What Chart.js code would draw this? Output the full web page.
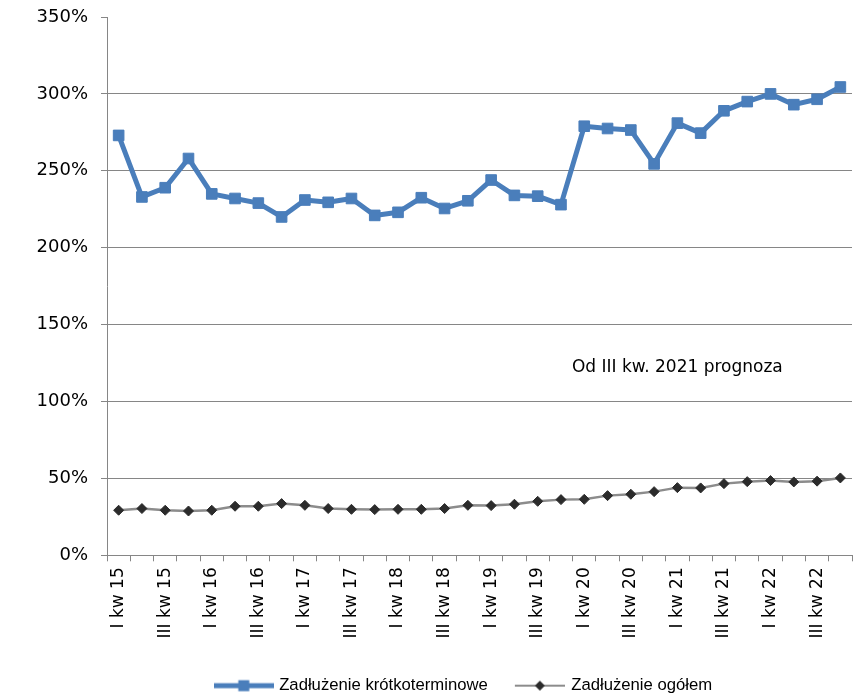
<!DOCTYPE html>
<html lang="pl">
<head>
<meta charset="UTF-8">
<title>Zadłużenie krótkoterminowe i ogółem</title>
<script src="https://cdn.jsdelivr.net/npm/chart.js@4.4.1/dist/chart.umd.min.js"></script>
<style>
    html, body { margin: 0; padding: 0; background: #fff; }
</style>
</head>
<body>
<canvas id="debtChart" width="855" height="696"></canvas>
<script>
// --- Data ---
const quarters = [
    'I kw 15', 'II kw 15', 'III kw 15', 'IV kw 15',
    'I kw 16', 'II kw 16', 'III kw 16', 'IV kw 16',
    'I kw 17', 'II kw 17', 'III kw 17', 'IV kw 17',
    'I kw 18', 'II kw 18', 'III kw 18', 'IV kw 18',
    'I kw 19', 'II kw 19', 'III kw 19', 'IV kw 19',
    'I kw 20', 'II kw 20', 'III kw 20', 'IV kw 20',
    'I kw 21', 'II kw 21', 'III kw 21', 'IV kw 21',
    'I kw 22', 'II kw 22', 'III kw 22', 'IV kw 22'
];
const shortTermDebt = [
    273, 233, 239, 258, 235, 232, 229, 220,
    231, 229.5, 232, 221, 223, 232.5, 225.5, 230.5,
    244, 234, 233.5, 228, 279, 277.5, 276.5, 254.5,
    281, 274.5, 289, 295, 300, 293, 296.5, 304.5
];
const totalDebt = [
    29.3, 30.4, 29.3, 28.8, 29.3, 31.9, 31.9, 33.6,
    32.5, 30.4, 29.9, 29.7, 29.9, 29.9, 30.4, 32.5,
    32.3, 33.2, 35.1, 36.2, 36.4, 38.8, 39.7, 41.4,
    44.0, 43.8, 46.6, 47.9, 48.6, 47.7, 48.2, 50.3
];
const seriesNames = ['Zadłużenie krótkoterminowe', 'Zadłużenie ogółem'];
const yTicks = [0, 50, 100, 150, 200, 250, 300, 350];
const noteText = 'Od III kw. 2021 prognoza';

const BLUE = '#4a7ebb';
const GREY_LINE = '#8c8c8c';
const DARK = '#2b2b2b';
const AXIS = '#868686';

// Legend sample: a short line with the marker in the middle (Excel style)
function legendIcon(width, x0, x1, lineColor, lineWidth, drawMarker) {
    const c = document.createElement('canvas');
    c.width = width;
    c.height = 14;
    const g = c.getContext('2d');
    g.strokeStyle = lineColor;
    g.lineWidth = lineWidth;
    g.beginPath();
    g.moveTo(x0, 7);
    g.lineTo(x1, 7);
    g.stroke();
    drawMarker(g, (x0 + x1) / 2, 7);
    return c;
}

const icons = [
    legendIcon(60, 0, 60, BLUE, 5, (g, x, y) => {
        g.fillStyle = BLUE;
        g.fillRect(x - 5.5, y - 5.5, 11, 11);
    }),
    legendIcon(58, 8, 58, GREY_LINE, 2, (g, x, y) => {
        g.fillStyle = DARK;
        g.beginPath();
        g.moveTo(x, y - 5);
        g.lineTo(x + 5, y);
        g.lineTo(x, y + 5);
        g.lineTo(x - 5, y);
        g.closePath();
        g.fill();
    })
];

// Forecast note drawn inside the plot area
const forecastNote = {
    id: 'forecastNote',
    afterDatasetsDraw(chart) {
        const { ctx, scales: { x, y } } = chart;
        ctx.save();
        ctx.font = '17px "DejaVu Sans"';
        ctx.fillStyle = '#000';
        ctx.textAlign = 'center';
        ctx.textBaseline = 'middle';
        ctx.fillText(noteText, x.getPixelForValue(24), y.getPixelForValue(122));
        ctx.restore();
    }
};

// legend is centred under the whole figure in the original, a bit left of the plot centre
const legendNudge = {
    id: 'legendNudge',
    afterLayout(chart) {
        chart.legend.left -= 15;
        chart.legend.right -= 15;
    }
};

new Chart(document.getElementById('debtChart'), {
    type: 'line',
    data: {
        labels: quarters,
        datasets: [
            {
                label: seriesNames[0],
                data: shortTermDebt,
                borderColor: BLUE,
                borderWidth: 5,
                borderJoinStyle: 'round',
                pointStyle: 'rect',
                pointRadius: 7.5,
                pointBackgroundColor: BLUE,
                pointBorderColor: BLUE,
                pointBorderWidth: 1,
                tension: 0
            },
            {
                label: seriesNames[1],
                data: totalDebt,
                borderColor: GREY_LINE,
                borderWidth: 2.5,
                pointStyle: 'rectRot',
                pointRadius: 5,
                pointBackgroundColor: DARK,
                pointBorderColor: DARK,
                pointBorderWidth: 1,
                tension: 0
            }
        ]
    },
    options: {
        responsive: false,
        animation: false,
        layout: {
            autoPadding: false,
            padding: { top: 17, right: 3, left: 0, bottom: -8 }
        },
        plugins: {
            tooltip: { enabled: false },
            legend: {
                position: 'bottom',
                fullSize: false,
                labels: {
                    usePointStyle: true,
                    pointStyleWidth: 54,
                    padding: 21,
                    color: '#000',
                    font: { family: '"Liberation Sans", Arial', size: 16.7 },
                    generateLabels: (chart) => chart.data.datasets.map((ds, i) => ({
                        text: ds.label,
                        pointStyle: icons[i],
                        datasetIndex: i,
                        hidden: false,
                        lineWidth: 0,
                        fontColor: '#000'
                    }))
                }
            }
        },
        scales: {
            x: {
                offset: true,
                grid: {
                    offset: true,
                    drawOnChartArea: false,
                    color: AXIS,
                    tickLength: 6
                },
                border: { color: AXIS, width: 1 },
                ticks: {
                    autoSkip: false,
                    minRotation: 90,
                    maxRotation: 90,
                    padding: 6,
                    color: '#000',
                    font: { family: '"DejaVu Sans"', size: 17 },
                    callback: (v, i) => (i % 2 === 0 ? quarters[i] : '')
                },
                afterFit: (scale) => {
                    scale.height = 101;
                    scale.paddingLeft = 0;
                    scale.paddingRight = 0;
                }
            },
            y: {
                min: yTicks[0],
                max: yTicks[yTicks.length - 1],
                grid: {
                    color: (c) => (c.tick && c.tick.value === 350 ? 'rgba(0,0,0,0)' : AXIS),
                    tickColor: AXIS,
                    tickLength: 6
                },
                border: { color: AXIS, width: 1 },
                ticks: {
                    stepSize: 50,
                    padding: 13,
                    color: '#000',
                    font: { family: '"DejaVu Sans"', size: 18 },
                    callback: (v) => v + '%'
                },
                afterFit: (scale) => {
                    scale.width = 107;
                    scale.paddingTop = 10;
                    scale.paddingBottom = 10;
                }
            }
        }
    },
    plugins: [forecastNote, legendNudge]
});
</script>
</body>
</html>
